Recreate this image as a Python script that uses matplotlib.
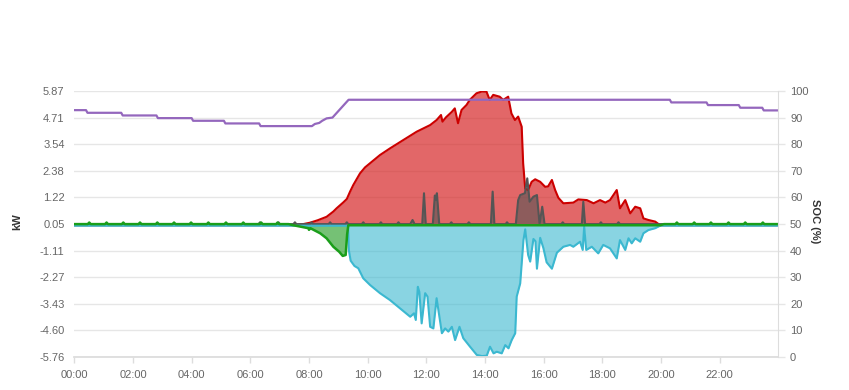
import matplotlib
matplotlib.use("Agg")
import matplotlib.pyplot as plt

plt.rcParams['font.family'] = ['Liberation Sans', 'DejaVu Sans']

# ---- data (time in hours, power in kW) ----
hour_ticks = [0, 2, 4, 6, 8, 10, 12, 14, 16, 18, 20, 22]
hour_labels = ['00:00', '02:00', '04:00', '06:00', '08:00', '10:00',
               '12:00', '14:00', '16:00', '18:00', '20:00', '22:00']
kw_labels = ['-5.76', '-4.60', '-3.43', '-2.27', '-1.11', '0.05',
             '1.22', '2.38', '3.54', '4.71', '5.87']
soc_labels = ['0', '10', '20', '30', '40', '50', '60', '70', '80', '90', '100']

# solar production
pv_t = [0.0, 7.45, 7.8, 8.03, 8.3, 8.6, 8.83, 8.94, 9.17, 9.29, 9.4, 9.51,
        9.74, 9.91, 10.08, 10.42, 10.76, 11.22, 11.67, 12.13, 12.35, 12.5,
        12.55, 12.67, 12.87, 12.97, 13.08, 13.2, 13.37, 13.48, 13.71, 13.9,
        14.05, 14.16, 14.28, 14.5, 14.62, 14.79, 14.9, 15.02, 15.13, 15.25,
        15.3, 15.37, 15.47, 15.59, 15.71, 15.88, 16.05, 16.15, 16.28, 16.39,
        16.5, 16.67, 17.01, 17.18, 17.47, 17.7, 17.92, 18.1, 18.26, 18.49,
        18.6, 18.78, 18.95, 19.12, 19.29, 19.4, 19.57, 19.8, 19.97, 23.95]
pv_kw = [0.0, 0.0, 0.05, 0.11, 0.22, 0.37, 0.6, 0.74, 1.0, 1.15, 1.47, 1.76,
         2.27, 2.53, 2.71, 3.07, 3.36, 3.73, 4.09, 4.38, 4.6, 4.82,
         4.53, 4.72, 4.96, 5.11, 4.46, 5.04, 5.26, 5.48, 5.77, 5.85,
         5.84, 5.48, 5.7, 5.62, 5.48, 5.62, 4.89, 4.6, 4.75, 4.31,
         2.71, 1.6, 1.54, 1.9, 2.01, 1.9, 1.68, 1.7, 1.98, 1.54,
         1.2, 0.96, 0.99, 1.13, 1.1, 0.96, 1.1, 0.99, 1.1, 1.54,
         0.74, 1.1, 0.52, 0.81, 0.74, 0.3, 0.23, 0.16, 0.0, 0.0]

# house load
load_t = [0.0, 6.28, 6.33, 6.38, 6.91, 6.96, 7.01, 7.47, 7.52, 7.57,
          8.04, 8.09, 8.14, 8.67, 8.72, 8.77, 9.24, 9.29, 9.34,
          9.8, 9.85, 9.9, 10.4, 10.45, 10.5, 11.0, 11.05, 11.1,
          11.45, 11.53, 11.6, 11.86, 11.92, 11.98,
          12.22, 12.29, 12.32, 12.36, 12.44, 12.8, 12.85, 12.9,
          13.4, 13.45, 13.5, 14.2, 14.26, 14.32, 14.7, 14.75, 14.8,
          15.05, 15.13, 15.2, 15.36, 15.44, 15.52, 15.65, 15.77, 15.86, 15.95, 16.03,
          16.6, 16.65, 16.7, 17.3, 17.35, 17.41, 17.9, 17.95, 18.0,
          18.5, 18.55, 18.6, 19.5, 20.0, 23.95]
load_kw = [0.05, 0.05, 0.13, 0.05, 0.05, 0.13, 0.05, 0.05, 0.13, 0.05,
           0.05, 0.13, 0.05, 0.05, 0.13, 0.05, 0.05, 0.13, 0.05,
           0.05, 0.13, 0.05, 0.05, 0.13, 0.05, 0.05, 0.13, 0.05,
           0.05, 0.23, 0.05, 0.05, 1.4, 0.05,
           0.05, 1.3, 1.1, 1.4, 0.05, 0.05, 0.13, 0.05,
           0.05, 0.13, 0.05, 0.05, 1.47, 0.05, 0.05, 0.13, 0.05,
           0.05, 1.1, 1.32, 1.4, 2.05, 1.03, 1.25, 1.32, 0.05, 0.81, 0.05,
           0.05, 0.13, 0.05, 0.05, 1.03, 0.05, 0.05, 0.13, 0.05,
           0.05, 0.13, 0.05, 0.05, 0.05, 0.05]

# battery (negative = charging)
batt_t = [0.0, 9.33, 9.36, 9.42, 9.55, 9.68, 9.85, 10.08, 10.42, 10.76,
          11.1, 11.45, 11.58, 11.64, 11.71, 11.76, 11.84, 11.96, 12.04, 12.13,
          12.24, 12.35, 12.53, 12.64, 12.75, 12.87, 12.98, 13.13, 13.26, 13.49,
          13.72, 13.9, 14.06, 14.17, 14.29, 14.4, 14.57, 14.69, 14.8, 14.91,
          15.03, 15.08, 15.2, 15.31, 15.37, 15.47, 15.54, 15.65, 15.72, 15.77,
          15.88, 15.99, 16.1, 16.28, 16.45, 16.67, 16.9, 17.01, 17.24, 17.33,
          17.38, 17.45, 17.64, 17.86, 18.03, 18.26, 18.49, 18.6, 18.78, 18.89,
          19.0, 19.12, 19.29, 19.4, 19.57, 19.8, 19.97, 23.95]
batt_kw = [-0.02, -0.02, -1.1, -1.55, -1.78, -1.88, -2.32, -2.61, -2.97, -3.27,
           -3.63, -4.0, -3.85, -4.14, -2.69, -2.91, -4.29, -2.97, -3.12, -4.44,
           -4.51, -3.19, -4.72, -4.51, -4.65, -4.44, -5.02, -4.44, -4.94, -5.31,
           -5.67, -5.72, -5.7, -5.31, -5.6, -5.53, -5.6, -5.24, -5.38, -5.02,
           -4.72, -3.12, -2.54, -0.65, -0.18, -1.3, -1.59, -0.6, -0.7, -1.9,
           -0.55, -1.0, -1.62, -1.9, -1.2, -0.94, -0.86, -0.94, -0.72, -1.08,
           -0.06, -1.08, -0.94, -1.23, -0.86, -1.01, -1.45, -0.65, -1.08, -0.57,
           -0.79, -0.57, -0.72, -0.35, -0.21, -0.13, -0.02, -0.02]

# grid (negative = export)
grid_t = [0.0, 0.46, 0.51, 0.56, 1.05, 1.1, 1.15, 1.62, 1.67, 1.72,
          2.19, 2.24, 2.29, 2.78, 2.83, 2.88, 3.35, 3.4, 3.45,
          3.93, 3.98, 4.03, 4.52, 4.57, 4.62, 5.12, 5.17, 5.22,
          5.71, 5.76, 5.81, 6.32, 6.37, 6.42, 6.88, 6.93, 6.98,
          7.3, 7.47, 7.98, 8.0, 8.05, 8.38, 8.6, 8.83, 9.03, 9.15, 9.25, 9.3, 9.34,
          19.97, 20.1, 20.49, 20.54, 20.59, 21.08, 21.13, 21.18,
          21.65, 21.7, 21.75, 22.25, 22.3, 22.35, 22.82, 22.87, 22.92,
          23.42, 23.47, 23.52, 23.95]
grid_kw = [0.05, 0.05, 0.12, 0.05, 0.05, 0.12, 0.05, 0.05, 0.12, 0.05,
           0.05, 0.12, 0.05, 0.05, 0.12, 0.05, 0.05, 0.12, 0.05,
           0.05, 0.12, 0.05, 0.05, 0.12, 0.05, 0.05, 0.12, 0.05,
           0.05, 0.12, 0.05, 0.05, 0.12, 0.05, 0.05, 0.12, 0.05,
           0.05, 0.0, -0.13, -0.2, -0.13, -0.35, -0.57, -0.94, -1.16, -1.34, -1.3, -0.4, 0.0,
           0.0, 0.05, 0.05, 0.12, 0.05, 0.05, 0.12, 0.05,
           0.05, 0.12, 0.05, 0.05, 0.12, 0.05, 0.05, 0.12, 0.05,
           0.05, 0.12, 0.05, 0.05]

# battery state of charge (%)
soc_t = [0.0, 0.4, 0.45, 1.6, 1.65, 2.8, 2.85, 4.0, 4.05, 5.1, 5.15, 6.3, 6.35,
         8.1, 8.2, 8.35, 8.45, 8.6, 8.8, 9.35, 20.3, 20.35, 21.55, 21.6,
         22.65, 22.7, 23.45, 23.5, 23.95]
soc_pct = [92.8, 92.8, 91.8, 91.8, 90.8, 90.8, 89.8, 89.8, 88.8, 88.8, 87.8, 87.8, 86.8,
           86.8, 87.6, 88.0, 88.8, 89.7, 90.0, 96.7, 96.7, 95.7, 95.7, 94.7,
           94.7, 93.7, 93.7, 92.7, 92.7]

# ---- drawing ----
fig = plt.figure(figsize=(8.49, 3.9), dpi=100)
ax = fig.add_axes([0.0875, 0.0846, 0.8283, 0.6821])

grid_col = '#e6e6e6'
ax.set_axisbelow(True)
ax.yaxis.grid(True, color=grid_col, lw=1)

ax.fill_between(pv_t, pv_kw, 0, color='#d62728', alpha=0.7, lw=0)
ax.plot(pv_t, pv_kw, color='#cc0000', lw=1.5)

ax.fill_between(load_t, load_kw, 0, color='#555555', alpha=0.6, lw=0)
ax.plot(load_t, load_kw, color='#555555', lw=1.5)

ax.fill_between(batt_t, batt_kw, 0, color='#3bb8d0', alpha=0.6, lw=0)
ax.plot(batt_t, batt_kw, color='#3bb8d0', lw=1.5)

ax.fill_between(grid_t, grid_kw, 0, color='#2ca02c', alpha=0.65, lw=0)
ax.plot(grid_t, grid_kw, color='#1a9e1a', lw=1.8)

ax.set_xlim(0, 23.97)
ax.set_ylim(-5.76, 5.87)
kw_pos = [float(s) for s in kw_labels]
kw_pos[0], kw_pos[-1] = -5.76, 5.87
step = (5.87 + 5.76) / 10
ax.set_yticks([-5.76 + i * step for i in range(len(kw_labels))])
ax.set_yticklabels(kw_labels)
ax.set_xticks(hour_ticks)
ax.set_xticklabels(hour_labels)

for s in ['left', 'top', 'right']:
    ax.spines[s].set_visible(False)
ax.spines['bottom'].set_color('#dddddd')
ax.spines['bottom'].set_linewidth(1.3)
ax.tick_params(axis='y', length=0, pad=7, labelsize=8, labelcolor='#666666')
ax.tick_params(axis='x', length=4, width=1, color='#dddddd', pad=5,
               labelsize=8, labelcolor='#666666')

ax.set_ylabel('kW', fontsize=8, fontweight='bold', color='#333333')
ax.yaxis.set_label_coords(-0.074, 0.51)

# SOC on the right axis
ax2 = ax.twinx()
ax2.plot(soc_t, soc_pct, color='#9467bd', lw=1.6)
ax2.set_ylim(0, 100)
ax2.set_yticks(range(0, 101, 10))
ax2.set_yticklabels(soc_labels)
for s in ['left', 'top', 'bottom']:
    ax2.spines[s].set_visible(False)
ax2.spines['right'].set_color('#dddddd')
ax2.tick_params(axis='y', length=5, width=1, color=grid_col, pad=4,
                labelsize=8, labelcolor='#666666')
ax2.set_ylabel('SOC (%)', fontsize=8, fontweight='bold', color='#333333',
               rotation=270)
ax2.yaxis.set_label_coords(1.06, 0.51)

fig.savefig('out.png', dpi=100)
